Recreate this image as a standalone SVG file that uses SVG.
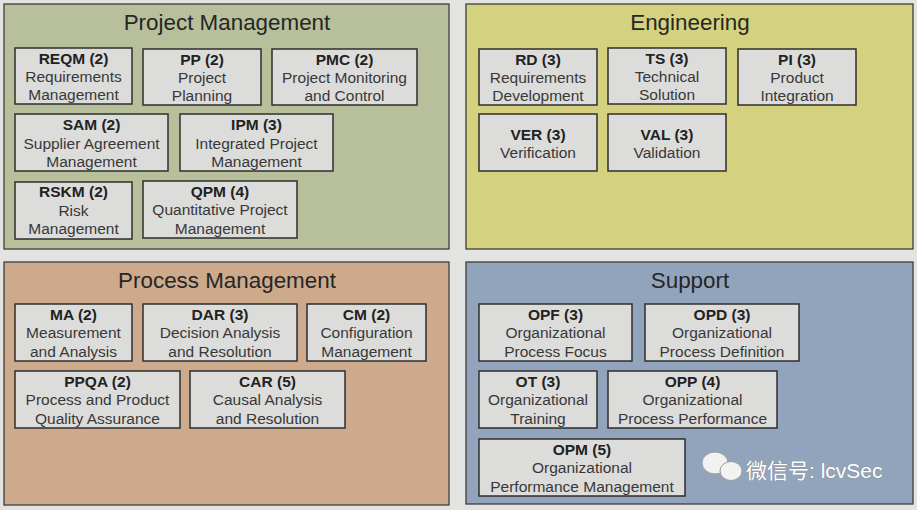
<svg xmlns="http://www.w3.org/2000/svg" width="917" height="510" viewBox="0 0 917 510">
<style>
.bg{fill:#e3e3e1}
.panel{stroke:#3e3e3c;stroke-width:1.3}
.pm{fill:#b7c09b}
.eng{fill:#d5d27f}
.proc{fill:#ceaa8c}
.sup{fill:#91a4bb}
.title{font-family:"Liberation Sans",Arial,sans-serif;font-size:22.4px;fill:#262626;text-anchor:middle}
.box{fill:#dcdcdb;stroke:#2e2e2e;stroke-width:1.5}
.t{font-family:"Liberation Sans",Arial,sans-serif;font-size:15.5px;text-anchor:middle;fill:#383838}
.b{font-weight:bold;fill:#222}
.wm{font-family:"Liberation Sans","Noto Sans CJK SC",sans-serif;font-size:21px;fill:#ffffff;stroke:#8a8a8a;stroke-width:0.6;paint-order:stroke}
</style>
<rect class="bg" x="0" y="0" width="917" height="510"/>

<g id="panel-project-management">
<rect class="panel pm" x="4" y="4" width="445" height="245"/>
<text class="title" x="227" y="29.5">Project Management</text>
</g>
<g id="panel-engineering">
<rect class="panel eng" x="466" y="4" width="447" height="245"/>
<text class="title" x="690" y="29.5">Engineering</text>
</g>
<g id="panel-process-management">
<rect class="panel proc" x="4" y="262" width="445" height="243"/>
<text class="title" x="227" y="287.5">Process Management</text>
</g>
<g id="panel-support">
<rect class="panel sup" x="466" y="262" width="447" height="242"/>
<text class="title" x="690" y="287.5">Support</text>
</g>

<g id="connectors"></g>

<!-- Project Management -->
<g id="REQM"><rect class="box" x="15" y="48" width="117" height="56"/>
<text class="t b" x="73.5" y="63.5">REQM (2)</text><text class="t" x="73.5" y="82">Requirements</text><text class="t" x="73.5" y="100">Management</text></g>
<g id="PP"><rect class="box" x="143" y="49" width="118" height="56"/>
<text class="t b" x="202" y="64.5">PP (2)</text><text class="t" x="202" y="83">Project</text><text class="t" x="202" y="101">Planning</text></g>
<g id="PMC"><rect class="box" x="272" y="49" width="145" height="56"/>
<text class="t b" x="344.5" y="64.5">PMC (2)</text><text class="t" x="344.5" y="83">Project Monitoring</text><text class="t" x="344.5" y="101">and Control</text></g>
<g id="SAM"><rect class="box" x="15" y="114" width="153" height="57"/>
<text class="t b" x="91.5" y="130">SAM (2)</text><text class="t" x="91.5" y="148.5">Supplier Agreement</text><text class="t" x="91.5" y="167">Management</text></g>
<g id="IPM"><rect class="box" x="180" y="114" width="153" height="57"/>
<text class="t b" x="256.5" y="130">IPM (3)</text><text class="t" x="256.5" y="148.5">Integrated Project</text><text class="t" x="256.5" y="167">Management</text></g>
<g id="RSKM"><rect class="box" x="15" y="182" width="117" height="57"/>
<text class="t b" x="73.5" y="197">RSKM (2)</text><text class="t" x="73.5" y="215.5">Risk</text><text class="t" x="73.5" y="234">Management</text></g>
<g id="QPM"><rect class="box" x="143" y="181" width="154" height="57"/>
<text class="t b" x="220" y="196.5">QPM (4)</text><text class="t" x="220" y="215">Quantitative Project</text><text class="t" x="220" y="233.5">Management</text></g>

<!-- Engineering -->
<g id="RD"><rect class="box" x="479" y="49" width="118" height="56"/>
<text class="t b" x="538" y="64.5">RD (3)</text><text class="t" x="538" y="83">Requirements</text><text class="t" x="538" y="101">Development</text></g>
<g id="TS"><rect class="box" x="608" y="48" width="118" height="56"/>
<text class="t b" x="667" y="63.5">TS (3)</text><text class="t" x="667" y="82">Technical</text><text class="t" x="667" y="100">Solution</text></g>
<g id="PI"><rect class="box" x="738" y="49" width="118" height="56"/>
<text class="t b" x="797" y="64.5">PI (3)</text><text class="t" x="797" y="83">Product</text><text class="t" x="797" y="101">Integration</text></g>
<g id="VER"><rect class="box" x="479" y="114" width="118" height="57"/>
<text class="t b" x="538" y="139.5">VER (3)</text><text class="t" x="538" y="158">Verification</text></g>
<g id="VAL"><rect class="box" x="608" y="114" width="118" height="57"/>
<text class="t b" x="667" y="139.5">VAL (3)</text><text class="t" x="667" y="158">Validation</text></g>

<!-- Process Management -->
<g id="MA"><rect class="box" x="15" y="304" width="117" height="57"/>
<text class="t b" x="73.5" y="319.5">MA (2)</text><text class="t" x="73.5" y="338">Measurement</text><text class="t" x="73.5" y="356.5">and Analysis</text></g>
<g id="DAR"><rect class="box" x="143" y="304" width="154" height="57"/>
<text class="t b" x="220" y="319.5">DAR (3)</text><text class="t" x="220" y="338">Decision Analysis</text><text class="t" x="220" y="356.5">and Resolution</text></g>
<g id="CM"><rect class="box" x="307" y="304" width="119" height="57"/>
<text class="t b" x="366.5" y="319.5">CM (2)</text><text class="t" x="366.5" y="338">Configuration</text><text class="t" x="366.5" y="356.5">Management</text></g>
<g id="PPQA"><rect class="box" x="15" y="371" width="165" height="57"/>
<text class="t b" x="97.5" y="386.5">PPQA (2)</text><text class="t" x="97.5" y="405">Process and Product</text><text class="t" x="97.5" y="423.5">Quality Assurance</text></g>
<g id="CAR"><rect class="box" x="190" y="371" width="155" height="57"/>
<text class="t b" x="267.5" y="386.5">CAR (5)</text><text class="t" x="267.5" y="405">Causal Analysis</text><text class="t" x="267.5" y="423.5">and Resolution</text></g>

<!-- Support -->
<g id="OPF"><rect class="box" x="479" y="304" width="153" height="57"/>
<text class="t b" x="555.5" y="319.5">OPF (3)</text><text class="t" x="555.5" y="338">Organizational</text><text class="t" x="555.5" y="356.5">Process Focus</text></g>
<g id="OPD"><rect class="box" x="645" y="304" width="154" height="57"/>
<text class="t b" x="722" y="319.5">OPD (3)</text><text class="t" x="722" y="338">Organizational</text><text class="t" x="722" y="356.5">Process Definition</text></g>
<g id="OT"><rect class="box" x="479" y="371" width="118" height="57"/>
<text class="t b" x="538" y="386.5">OT (3)</text><text class="t" x="538" y="405">Organizational</text><text class="t" x="538" y="423.5">Training</text></g>
<g id="OPP"><rect class="box" x="608" y="371" width="169" height="57"/>
<text class="t b" x="692.5" y="386.5">OPP (4)</text><text class="t" x="692.5" y="405">Organizational</text><text class="t" x="692.5" y="423.5">Process Performance</text></g>
<g id="OPM"><rect class="box" x="479" y="439" width="206" height="57"/>
<text class="t b" x="582" y="454.5">OPM (5)</text><text class="t" x="582" y="473">Organizational</text><text class="t" x="582" y="491.5">Performance Management</text></g>

<g id="watermark">
<ellipse cx="715" cy="463" rx="13" ry="11" fill="#f2f2f2" stroke="#9a9a9a" stroke-width="1"/>
<ellipse cx="731" cy="471" rx="11" ry="9.5" fill="#f2f2f2" stroke="#9a9a9a" stroke-width="1"/>
<text class="wm" x="746" y="478">微信号: lcvSec</text>
</g>
</svg>
